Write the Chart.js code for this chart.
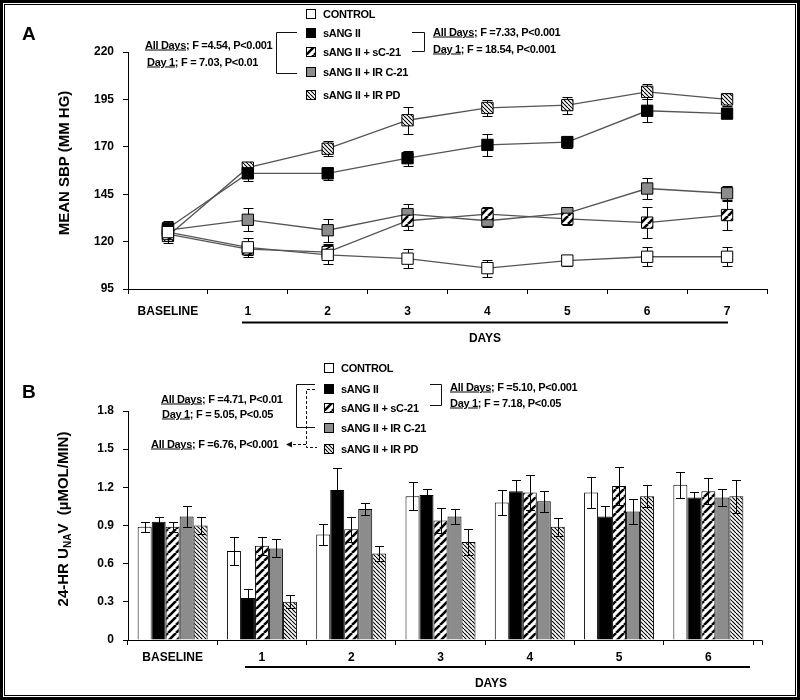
<!DOCTYPE html>
<html>
<head>
<meta charset="utf-8">
<script src="https://cdn.jsdelivr.net/npm/chart.js@4.4.1/dist/chart.umd.min.js"></script>
<style>
  html, body { margin: 0; padding: 0; background: #fff; }
  #fig { position: relative; width: 800px; height: 700px; overflow: hidden;
         font-family: 'Liberation Sans', Arial, sans-serif; font-weight: bold; color: #000; }
  #fig canvas { position: absolute; left: 0; }
  .t { position: absolute; white-space: nowrap; line-height: 1; font-size: 11px;
       letter-spacing: -0.3px; transform: translateY(-50%); }
  .t u { text-decoration-thickness: 1px; text-underline-offset: 1px; }
  .panel { font-size: 19px; letter-spacing: 0; }
  .days { font-size: 12px; letter-spacing: 0; transform: translate(-50%, -50%); }
  .ytitle { position: absolute; white-space: nowrap; line-height: 1; font-size: 15px;
            transform: translate(-50%, -50%) rotate(-90deg); }
  .ytitle sub { font-size: 10px; vertical-align: -3px; }
  .sw { position: absolute; width: 10px; height: 10px; transform: translateY(-50%); }
  #frame { position: absolute; left: 0; top: 0; width: 800px; height: 700px; box-sizing: border-box;
           border: 3px solid #000; box-shadow: inset 0 0 0 1px #fff, inset 0 0 0 2px #000; pointer-events: none; }
  svg { position: absolute; left: 0; top: 0; }
</style>
</head>
<body>
<div id="fig">
  <canvas id="chart-sbp" width="800" height="345" style="top:0"></canvas>
  <canvas id="chart-una" width="800" height="355" style="top:345px"></canvas>

  <svg width="800" height="700" fill="none" stroke="#111" stroke-width="1">
    <!-- panel A brackets -->
    <path d="M297 32.5 H276.5 V73.5 H297" />
    <path d="M412 32.5 H424.5 V51.5 H412" />
    <!-- panel B brackets -->
    <path d="M315 384.5 H296.5 V427.5 H315" />
    <path d="M315 389.5 H306.5 V447.5 H317" stroke-dasharray="3,2" />
    <path d="M306 444.5 H292" stroke-dasharray="3,2" />
    <polygon points="286,444.5 292,441.5 292,447.5" fill="#111" stroke="none" />
    <path d="M430 384.5 H441.5 V405.5 H430" />
    <!-- day underlines -->
    <path d="M242 322.5 H728" stroke="#000" stroke-width="2" />
    <path d="M245 667 H750" stroke="#000" stroke-width="2" />
    <!-- x axis of B runs a little past the last group -->
    <path d="M753 640.5 H762.5 V645" stroke="#000" />
  </svg>

  <div class="t panel" style="left:22px;top:33px">A</div>
  <div class="t panel" style="left:22px;top:391px">B</div>

  <div class="ytitle" style="left:63px;top:163px">MEAN SBP (MM HG)</div>
  <div class="ytitle" style="left:64px;top:519px">24-HR U<sub>NA</sub>V&nbsp;&nbsp;(µMOL/MIN)</div>

  <div class="t days" style="left:485px;top:338px">DAYS</div>
  <div class="t days" style="left:491px;top:683px">DAYS</div>

  <div class="t" style="left:145px;top:45px"><u>All Days</u>; F =4.54, P&lt;0.001</div>
  <div class="t" style="left:147px;top:62px"><u>Day 1</u>; F = 7.03, P&lt;0.01</div>
  <div class="t" style="left:433px;top:32px"><u>All Days</u>; F =7.33, P&lt;0.001</div>
  <div class="t" style="left:433px;top:49px"><u>Day 1</u>; F = 18.54, P&lt;0.001</div>

  <div class="t" style="left:161px;top:399px"><u>All Days</u>; F =4.71, P&lt;0.01</div>
  <div class="t" style="left:162px;top:414px"><u>Day 1</u>; F = 5.05, P&lt;0.05</div>
  <div class="t" style="left:151px;top:444px"><u>All Days</u>; F =6.76, P&lt;0.001</div>
  <div class="t" style="left:450px;top:387px"><u>All Days</u>; F =5.10, P&lt;0.001</div>
  <div class="t" style="left:450px;top:403px"><u>Day 1</u>; F = 7.18, P&lt;0.05</div>

  <div id="frame"></div>
</div>

<script>
// groups
const groups = ['CONTROL', 'sANG II', 'sANG II + sC-21', 'sANG II + IR C-21', 'sANG II + IR PD'];

// panel A: mean SBP (mm Hg)
const sbpDays = ['BASELINE', '1', '2', '3', '4', '5', '6', '7'];
const sbpControl = [125, 117, 113, 111, 106, 110, 112, 112];
const sbpAng = [127, 156, 156, 164, 171, 172.5, 189, 187.5];
const sbpAngSC21 = [124, 116, 114.5, 131, 134.5, 132, 130, 134];
const sbpAngIRC21 = [126, 131.5, 126, 134.5, 131, 135, 148, 145.5];
const sbpAngIRPD = [123, 159, 169, 184, 190.5, 192, 199, 195];
const sbpControlErr = [4, 5, 5, 5, 4.5, 3, 5, 5];
const sbpAngErr = [4, 4, 3.5, 4, 6, 3, 6, 2.5];
const sbpAngSC21Err = [3, 3, 4, 5, 4, 3, 8, 8];
const sbpAngIRC21Err = [4, 6, 6, 5.5, 3.5, 3.5, 5.5, 4];
const sbpAngIRPDErr = [4, 3, 4, 7, 4.3, 4.5, 4, 3.6];
const sbpTicks = [95, 120, 145, 170, 195, 220];

// panel B: 24-hr UNaV (umol/min)
const unaDays = ['BASELINE', '1', '2', '3', '4', '5', '6'];
const unaControl = [0.89, 0.70, 0.83, 1.13, 1.08, 1.16, 1.22];
const unaAng = [0.93, 0.33, 1.18, 1.14, 1.17, 0.97, 1.12];
const unaAngSC21 = [0.89, 0.74, 0.87, 0.94, 1.16, 1.21, 1.17];
const unaAngIRC21 = [0.97, 0.72, 1.03, 0.97, 1.09, 1.01, 1.12];
const unaAngIRPD = [0.90, 0.30, 0.68, 0.77, 0.89, 1.13, 1.13];
const unaControlErr = [0.04, 0.11, 0.08, 0.11, 0.10, 0.12, 0.10];
const unaAngErr = [0.04, 0.07, 0.17, 0.05, 0.09, 0.085, 0.045];
const unaAngSC21Err = [0.04, 0.07, 0.10, 0.10, 0.14, 0.15, 0.10];
const unaAngIRC21Err = [0.08, 0.07, 0.05, 0.06, 0.08, 0.10, 0.07];
const unaAngIRPDErr = [0.07, 0.05, 0.06, 0.10, 0.07, 0.085, 0.13];
const unaTicks = [0, 0.3, 0.6, 0.9, 1.2, 1.5, 1.8];

Chart.defaults.font.family = "'Liberation Sans', Arial, sans-serif";
Chart.defaults.color = '#000';

function makePattern(wide) {
  const n = wide ? 8 : 4;
  const c = document.createElement('canvas');
  c.width = c.height = n;
  const g = c.getContext('2d');
  g.fillStyle = '#fff';
  g.fillRect(0, 0, n, n);
  g.strokeStyle = '#000';
  g.lineWidth = wide ? 2.6 : 1.1;
  g.beginPath();
  for (let k = -1; k <= 1; k++) {
    if (wide) { g.moveTo(k * n, n); g.lineTo(k * n + n, 0); }   // "/"
    else { g.moveTo(k * n, 0); g.lineTo(k * n + n, n); }         // "\"
  }
  g.stroke();
  return g.createPattern(c, 'repeat');
}

const fills = ['#fff', '#000', makePattern(true), '#8c8c8c', makePattern(false)];

// error bars drawn from each dataset's errors array
const errorBars = {
  id: 'errorBars',
  beforeDatasetsDraw(chart, args, opts) { if (opts.under) drawErrors(chart, opts); },
  afterDatasetsDraw(chart, args, opts) { if (!opts.under) drawErrors(chart, opts); },
};

function drawErrors(chart, opts) {
  const { ctx } = chart;
  const y = chart.scales.y;
  ctx.save();
  ctx.strokeStyle = '#000';
  ctx.lineWidth = 1;
  chart.data.datasets.forEach((ds, i) => {
    const meta = chart.getDatasetMeta(i);
    meta.data.forEach((el, j) => {
      const v = ds.data[j];
      const e = ds.errors[j];
      const x = Math.round(el.x) + 0.5;
      const top = Math.round(y.getPixelForValue(v + e)) + 0.5;
      const bot = Math.round(y.getPixelForValue(v - e)) + 0.5;
      ctx.beginPath();
      ctx.moveTo(x, top); ctx.lineTo(x, bot);
      ctx.moveTo(x - opts.cap, top); ctx.lineTo(x + opts.cap, top);
      ctx.moveTo(x - opts.cap, bot); ctx.lineTo(x + opts.cap, bot);
      ctx.stroke();
    });
  });
  ctx.restore();
}

const tickFont = { size: 12, weight: 'bold' };

function axes(yMin, yMax, yTicks, labelPad, fmt) {
  return {
    x: {
      offset: true,
      grid: { offset: true, drawOnChartArea: false, tickLength: 5, color: '#000' },
      border: { color: '#000', width: 1 },
      ticks: { font: tickFont, padding: labelPad, maxRotation: 0, autoSkip: false },
      afterFit: (s) => { s.height = 30; },
    },
    y: {
      min: yMin,
      max: yMax,
      afterBuildTicks: (s) => { s.ticks = yTicks.map((v) => ({ value: v })); },
      grid: { drawOnChartArea: false, tickLength: 5, color: '#000' },
      border: { color: '#000', width: 1 },
      ticks: { font: tickFont, padding: 9, callback: fmt },
      afterFit: (s) => { s.width = 40; },
    },
  };
}

// Panel A: line chart with square markers
const sbpSeries = [sbpControl, sbpAng, sbpAngSC21, sbpAngIRC21, sbpAngIRPD];
const sbpErrors = [sbpControlErr, sbpAngErr, sbpAngSC21Err, sbpAngIRC21Err, sbpAngIRPDErr];

new Chart(document.getElementById('chart-sbp'), {
  type: 'line',
  data: {
    labels: sbpDays,
    datasets: sbpSeries.map((data, i) => ({
      label: groups[i],
      data,
      errors: sbpErrors[i],
      borderColor: '#555',
      borderWidth: 1.3,
      fill: false,
      pointStyle: 'rect',
      pointRadius: 8,
      pointBackgroundColor: fills[i],
      pointBorderColor: '#000',
      pointBorderWidth: 1,
    })),
  },
  options: {
    responsive: false,
    animation: false,
    events: [],
    layout: { padding: { left: 88, right: 33, top: 52, bottom: 26 } },
    plugins: { legend: { display: false }, tooltip: { enabled: false }, errorBars: { under: true, cap: 5 } },
    scales: axes(95, 220, sbpTicks, 10, (v) => String(v)),
  },
  plugins: [errorBars],
});

// Panel B: grouped bars
const unaSeries = [unaControl, unaAng, unaAngSC21, unaAngIRC21, unaAngIRPD];
const unaErrors = [unaControlErr, unaAngErr, unaAngSC21Err, unaAngIRC21Err, unaAngIRPDErr];

new Chart(document.getElementById('chart-una'), {
  type: 'bar',
  data: {
    labels: unaDays,
    datasets: unaSeries.map((data, i) => ({
      label: groups[i],
      data,
      errors: unaErrors[i],
      backgroundColor: fills[i],
      borderColor: '#000',
      borderWidth: 1,
      barPercentage: 1,
      categoryPercentage: 0.784,
    })),
  },
  options: {
    responsive: false,
    animation: false,
    events: [],
    layout: { padding: { left: 88, right: 47, top: 66, bottom: 30 } },
    plugins: { legend: { display: false }, tooltip: { enabled: false }, errorBars: { under: false, cap: 4.5 } },
    scales: axes(0, 1.8, unaTicks, 5, (v) => (v === 0 ? '0' : v.toFixed(1))),
  },
  plugins: [errorBars],
});

// Legends (swatches share the chart fills)
function legend(left, centers) {
  const fig = document.getElementById('fig');
  groups.forEach((name, i) => {
    const sw = document.createElement('canvas');
    sw.width = sw.height = 10;
    sw.className = 'sw';
    sw.style.left = left + 'px';
    sw.style.top = centers[i] + 'px';
    const g = sw.getContext('2d');
    g.fillStyle = fills[i];
    g.fillRect(0, 0, 10, 10);
    g.strokeStyle = '#000';
    g.strokeRect(0.5, 0.5, 9, 9);
    fig.appendChild(sw);

    const t = document.createElement('div');
    t.className = 't';
    t.style.left = (left + 17) + 'px';
    t.style.top = centers[i] + 'px';
    t.textContent = name;
    fig.appendChild(t);
  });
}

legend(306, [14, 32.5, 52, 72, 95]);
legend(324, [368, 388.5, 407.5, 428, 448.5]);
</script>
</body>
</html>
